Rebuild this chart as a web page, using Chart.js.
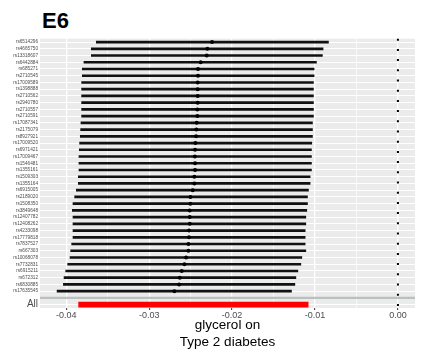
<!DOCTYPE html>
<html>
<head>
<meta charset="utf-8">
<script src="https://cdn.jsdelivr.net/npm/chart.js@4"></script>
<style>
  html, body { margin: 0; padding: 0; background: #fff; }
  #wrap { position: relative; width: 422px; height: 360px; }
  #panel-title {
    position: absolute; left: 42px; top: 10px;
    font: bold 22px/22px 'Liberation Sans', Arial, sans-serif; color: #000;
  }
  canvas { position: absolute; left: 0; top: 0; }
</style>
</head>
<body>
<div id="wrap">
  <div id="panel-title">E6</div>
  <canvas id="c" width="422" height="360"></canvas>
</div>
<script>
// leave-one-out rows, top to bottom
const snps = [
  'rs6514296', 'rs4665750', 'rs13318607', 'rs6442884', 'rs685271', 'rs2710545',
  'rs17009589', 'rs1398888', 'rs2710562', 'rs2940780', 'rs2710557', 'rs2710591',
  'rs17087341', 'rs2175079', 'rs8927921', 'rs17009520', 'rs6971421', 'rs17009467',
  'rs1546481', 'rs1355161', 'rs1509303', 'rs1355164', 'rs6915005', 'rs2189020',
  'rs1508350', 'rs3849648', 'rs12407782', 'rs12408262', 'rs4233098', 'rs17779818',
  'rs7837527', 'rs667303', 'rs10068078', 'rs7732831', 'rs6915211', 'rs672312',
  'rs6830885', 'rs17635545'
];
const estimate = [
  -0.02242, -0.02298, -0.02306, -0.02379, -0.02411, -0.02411,
  -0.02415, -0.02415, -0.02415, -0.02415, -0.02419, -0.02419,
  -0.02427, -0.02431, -0.02435, -0.02443, -0.02447, -0.02449,
  -0.02447, -0.02447, -0.02455, -0.02455, -0.02475, -0.02503,
  -0.02503, -0.02511, -0.02511, -0.02511, -0.02519, -0.02519,
  -0.02527, -0.02527, -0.02555, -0.02575, -0.02607, -0.02631,
  -0.02639, -0.02696
];
const lower = [
  -0.03638, -0.03698, -0.03698, -0.03787, -0.03807, -0.03807,
  -0.03815, -0.03815, -0.03815, -0.03815, -0.03815, -0.03815,
  -0.03823, -0.03827, -0.03831, -0.03839, -0.03843, -0.03847,
  -0.03847, -0.03847, -0.03855, -0.03855, -0.03879, -0.03899,
  -0.03919, -0.03927, -0.03919, -0.03919, -0.03919, -0.03919,
  -0.03935, -0.03947, -0.03955, -0.03983, -0.04007, -0.04027,
  -0.04035, -0.04111
];
const upper = [
  -0.00838, -0.00903, -0.00911, -0.00983, -0.01011, -0.01011,
  -0.01019, -0.01019, -0.01019, -0.01019, -0.01019, -0.01019,
  -0.01031, -0.01031, -0.01031, -0.01039, -0.01043, -0.01043,
  -0.01043, -0.01043, -0.01059, -0.01059, -0.01079, -0.01091,
  -0.01091, -0.01099, -0.01111, -0.01111, -0.01119, -0.01119,
  -0.01119, -0.01111, -0.01159, -0.01171, -0.01207, -0.01231,
  -0.01243, -0.01284
];
// pooled estimate
const allEstimate = -0.02467;
const allLower = -0.03851;
const allUpper = -0.01083;

const rowLabels = [...snps, '', 'All'];
const xTickStep = 0.005;
const xMin = -0.04317;
const xMax = 0.00206;

const FONT = "'Liberation Sans', Arial, sans-serif";
const isMajor = (v) => Math.abs(v * 100 - Math.round(v * 100)) < 1e-6;

// grey panel, dotted zero line and the grey separator above "All"
const panelDecor = {
  id: 'panelDecor',
  beforeDraw(chart) {
    const { ctx, chartArea: a } = chart;
    ctx.save();
    ctx.fillStyle = '#EBEBEB';
    ctx.fillRect(a.left, a.top, a.right - a.left, a.bottom - a.top);
    ctx.restore();
  },
  beforeDatasetsDraw(chart) {
    const { ctx, chartArea: a, scales } = chart;
    const x0 = scales.x.getPixelForValue(0);
    ctx.save();
    ctx.strokeStyle = '#000';
    ctx.lineWidth = 2;
    ctx.setLineDash([2, 8.2]);
    ctx.beginPath();
    ctx.moveTo(x0, a.top);
    ctx.lineTo(x0, a.bottom);
    ctx.stroke();
    ctx.setLineDash([]);
    const ySep = scales.y.getPixelForValue(rowLabels.indexOf(''));
    ctx.strokeStyle = '#B8C0C0';
    ctx.lineWidth = 2.2;
    ctx.beginPath();
    ctx.moveTo(a.left, ySep);
    ctx.lineTo(a.right, ySep);
    ctx.stroke();
    ctx.restore();
  }
};

new Chart(document.getElementById('c'), {
  type: 'bar',
  data: {
    labels: rowLabels,
    datasets: [
      {
        type: 'line',
        showLine: false,
        data: snps.map((s, i) => ({ x: estimate[i], y: s })),
        pointRadius: 2,
        pointBackgroundColor: '#000',
        pointBorderWidth: 0,
        order: 0
      },
      {
        type: 'line',
        showLine: false,
        data: [{ x: allEstimate, y: 'All' }],
        pointRadius: 2,
        pointBackgroundColor: '#FF0000',
        pointBorderWidth: 0,
        order: 1
      },
      {
        data: [...snps.map((s, i) => [lower[i], upper[i]]), null, null],
        backgroundColor: '#111',
        barThickness: 2,
        grouped: false,
        borderWidth: 0,
        order: 2
      },
      {
        data: [...snps.map(() => null), null, [allLower, allUpper]],
        backgroundColor: '#FF0000',
        barThickness: 5,
        grouped: false,
        borderWidth: 0,
        order: 3
      }
    ]
  },
  options: {
    indexAxis: 'y',
    responsive: false,
    animation: false,
    layout: { padding: { top: 38.7, right: 7, bottom: 0, left: 0 } },
    plugins: { legend: { display: false }, tooltip: { enabled: false } },
    scales: {
      x: {
        type: 'linear',
        min: xMin,
        max: xMax,
        afterFit: (s) => { s.height = 52; },
        border: { display: false },
        grid: {
          color: '#FFFFFF',
          lineWidth: (c) => (isMajor(c.tick.value) ? 1.3 : 0.7),
          tickLength: 2,
          tickWidth: 1,
          tickColor: (c) => (isMajor(c.tick.value) ? '#333333' : 'rgba(0,0,0,0)')
        },
        ticks: {
          stepSize: xTickStep,
          includeBounds: false,
          autoSkip: false,
          maxRotation: 0,
          padding: 0,
          color: '#4D4D4D',
          font: { family: FONT, size: 9 },
          callback: (v) => (isMajor(v) ? Number(v).toFixed(2) : '')
        },
        title: {
          display: true,
          text: ['glycerol on', 'Type 2 diabetes'],
          color: '#000',
          font: { family: FONT, size: 13.5, lineHeight: 1.3 },
          padding: { top: 0, bottom: 8.5 }
        }
      },
      y: {
        type: 'category',
        offset: true,
        afterFit: (s) => { s.width = 40; },
        border: { display: false },
        grid: { color: '#FFFFFF', lineWidth: 1, offset: false, drawTicks: false },
        ticks: {
          autoSkip: false,
          padding: 2,
          color: '#4D4D4D',
          font: (c) => ({ family: FONT, size: c.tick && c.tick.label === 'All' ? 10 : 4.7 })
        }
      }
    }
  },
  plugins: [panelDecor]
});
</script>
</body>
</html>
